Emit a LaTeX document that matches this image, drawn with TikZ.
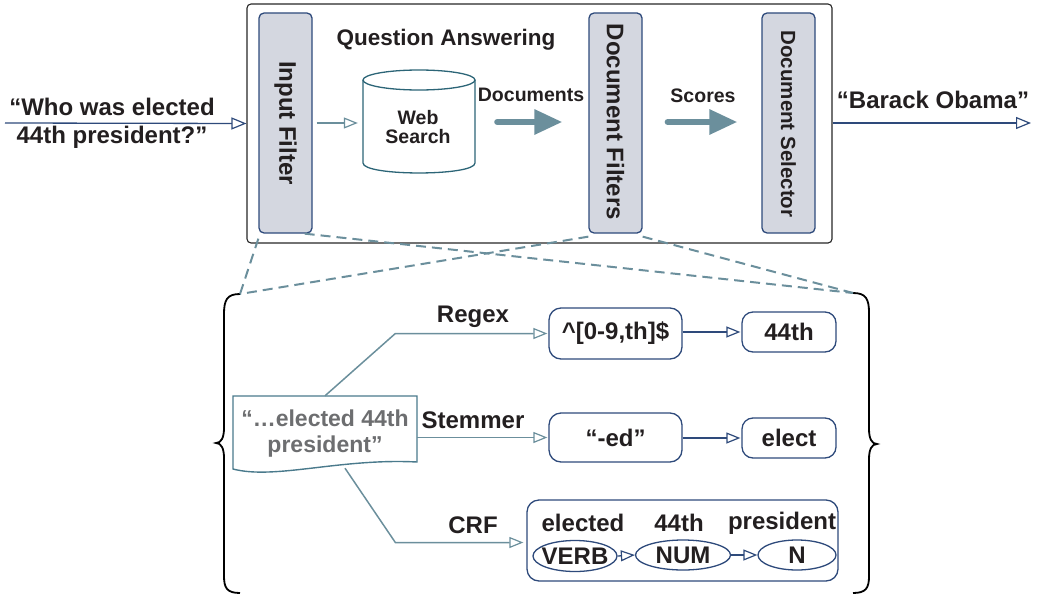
\documentclass[tikz,border=0pt]{standalone}
\usepackage{fontspec}
\setmainfont{Liberation Sans}
\usetikzlibrary{arrows.meta,shapes.geometric}
\definecolor{dblue}{HTML}{2E4A7B}
\definecolor{gblue}{HTML}{6B8F9C}
\definecolor{boxfill}{HTML}{D4D7E0}
\definecolor{txt}{HTML}{231F20}
\definecolor{doctxt}{HTML}{6D6E70}
\definecolor{cyl}{HTML}{2C6577}
\definecolor{docb}{HTML}{4A7A8C}
\begin{document}
\begin{tikzpicture}[x=1pt,y=-1pt,
  big/.style={font=\fontsize{24}{28}\selectfont\bfseries, text=txt},
  mid/.style={font=\fontsize{19.5}{22}\selectfont\bfseries, text=txt},
  vbar/.style={draw=dblue, line width=1.3pt, fill=boxfill, rounded corners=5pt, minimum width=53pt, minimum height=220pt, inner sep=0pt},
  rbox/.style={draw=dblue, line width=1.3pt, rounded corners=12pt, inner sep=0pt, big},
  ell/.style={draw=dblue, line width=1.3pt, ellipse, inner sep=0pt, big},
  openhead/.style={-{Triangle[open, length=14pt, width=11pt, line width=1.2pt]}},
  garrow/.style={gblue, line width=1.5pt, openhead},
  darrow/.style={dblue, line width=1.3pt, openhead},
  fatarrow/.style={gblue, line width=6pt, line cap=round, -{Triangle[length=28pt, width=24pt]}},
  dashline/.style={gblue, line width=2pt, dash pattern=on 10pt off 6pt},
  brace/.style={black, line width=1.8pt}
]
\useasboundingbox (0,0) rectangle (1040,594);

% main QA box
\node[draw=black!85, line width=1.1pt, rounded corners=4pt, minimum width=585pt, minimum height=239pt, inner sep=0pt] (qa) at (539.5,123.5) {};
\node[font=\fontsize{22.5}{24}\selectfont\bfseries, text=txt] (qat) at (446,40) {Question Answering};

% vertical bars
\node[vbar] (inf) at (285.5,123) {};
\node[big, rotate=-90] (inft) at (inf.center) {Input Filter};
\node[vbar] (df) at (615.5,123) {};
\node[big, rotate=-90] (dft) at ([yshift=1pt]df.center) {Document Filters};
\node[vbar] (ds) at (788.5,123) {};
\node[rotate=-90, font=\fontsize{20.5}{24}\selectfont\bfseries, text=txt] (dst) at ([yshift=-1pt]ds.center) {Document Selector};

% web search cylinder
\node[minimum width=112pt, minimum height=93pt, inner sep=0pt] (ws) at (419,122) {};
\draw[cyl, line width=1.3pt, fill=white] (363,80) -- (363,163) .. controls (363,176.3) and (475,176.3) .. (475,163) -- (475,80);
\draw[cyl, line width=1.3pt] (419,80) ellipse [x radius=56pt, y radius=10pt];
\node[mid, align=center, font=\fontsize{19.5}{19}\selectfont\bfseries] (wst) at (418,127) {Web\\Search};

% input / output
\coordinate (qin) at (5,123);
\coordinate (qout) at (1031,123);
\node[big, align=center] (qtxt) at (112,123) {“Who was elected\\44th president?”};
\draw[dblue, line width=1.3pt, -{Triangle[open, length=15pt, width=12pt, line width=1.2pt]}] (qin) -- (qa.west);
\node[big] (bo) at (933,100) {“Barack Obama”};
\draw[dblue, line width=1.3pt, -{Triangle[open, length=15pt, width=12pt, line width=1.2pt]}] (qa.east |- qout) -- (qout);

% internal arrows
\draw[garrow, shorten <=4pt, shorten >=5pt] (inf.east) -- (ws.west |- inf.east);
\node[mid] (doclab) at (531,95) {Documents};
\draw[fatarrow] ([xshift=22pt]ws.east) -- ([xshift=-26pt]ws.east -| df.west);
\node[mid] (sclab) at (703,96) {Scores};
\draw[fatarrow] ([xshift=25pt]ws.east -| df.east) -- ([xshift=-24pt]ws.east -| ds.west);

% braces
\coordinate (lbtop) at (240,294);
\coordinate (rbtop) at (853,293);
\draw[brace] (lbtop) .. controls (227,294) and (224,300) .. (224,314) -- (224,428) .. controls (224,438) and (221,443) .. (216,443) .. controls (221,443) and (224,448) .. (224,458) -- (224,576) .. controls (224,588) and (227,593) .. (240,593);
\draw[brace] (rbtop) .. controls (866,293) and (869,299) .. (869,313) -- (869,429) .. controls (869,439) and (872,444) .. (877,444) .. controls (872,444) and (869,449) .. (869,459) -- (869,576) .. controls (869,588) and (866,593) .. (853,593);

% dashed zoom lines
\draw[dashline] ([yshift=-5pt]inf.south west) -- (lbtop);
\draw[dashline] ([xshift=-8pt]inf.south east) -- (rbtop);
\draw[dashline] ([yshift=-3pt]df.south west) -- (lbtop);
\draw[dashline] ([yshift=-3pt]df.south east) -- (rbtop);

% document shape
\node[minimum width=184pt, minimum height=72pt, inner sep=0pt] (doc) at (325,432) {};
\draw[docb, line width=1.4pt, fill=white] (233,396) -- (417,396) -- (417,462) .. controls (340,458) and (275,480) .. (233,469) -- cycle;
\node[align=center, font=\fontsize{23}{26}\selectfont\bfseries, text=doctxt] (doct) at (325,434) {“…elected 44th\\president”};

% processing boxes
\node[rbox, minimum width=133pt, minimum height=51pt] (regex) at (615.5,333.5) {\^{}[0-9,th]\$};
\node[rbox, rounded corners=11pt, minimum width=94pt, minimum height=40pt] (t44) at (789,332) {44th};
\node[rbox, minimum width=133pt, minimum height=49pt] (ed) at (615.5,437.5) {“-ed”};
\node[rbox, rounded corners=11pt, minimum width=94pt, minimum height=40pt] (elect) at (789,438) {elect};
\node[rbox, minimum width=311pt, minimum height=81pt] (crf) at (682.5,540.5) {};

\node[big] (w1) at (583,523) {elected};
\node[big] (w2) at (679,523) {44th};
\node[big] (w3) at (782,523) {president};
\node[ell, minimum width=84pt, minimum height=31pt] (verb) at (575,556) {\makebox[0pt]{VERB}};
\node[ell, minimum width=95pt, minimum height=30pt] (num) at (683,555) {\makebox[0pt]{NUM}};
\node[ell, minimum width=78pt, minimum height=30pt] (n) at (797,555) {\makebox[0pt]{N}};

% labels
\node[big] (lreg) at (473,317) {Regex};
\node[big] (lstem) at (473,420) {Stemmer};
\node[big] (lcrf) at (473,525) {CRF};

% connectors
\draw[garrow, shorten >=1pt] (doc.north) -- ([xshift=-153pt]regex.west) -- (regex.west);
\draw[garrow, shorten >=1pt] (doc.east |- ed.west) -- (ed.west);
\draw[garrow, shorten >=3pt] ([xshift=20pt]doc.south) -- ([xshift=-131pt,yshift=-2pt]crf.west) -- ([yshift=-2pt]crf.west);
\draw[darrow, shorten >=1pt] (regex.east |- t44.west) -- (t44.west);
\draw[darrow, shorten >=1pt] (ed.east |- elect.west) -- (elect.west);
\draw[darrow] (verb.east) -- (num.west);
\draw[darrow] (num.east) -- (n.west);
\end{tikzpicture}
\end{document}
